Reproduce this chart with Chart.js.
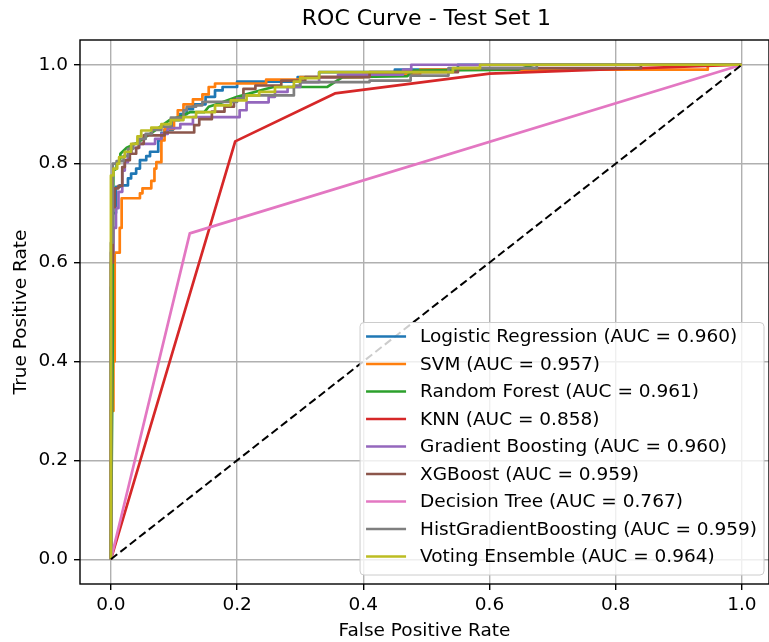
<!DOCTYPE html>
<html>
<head>
<meta charset="utf-8">
<script src="https://cdn.jsdelivr.net/npm/chart.js@4.4.1/dist/chart.umd.min.js"></script>
<style>
  html, body { margin: 0; padding: 0; background: #fff; }
</style>
</head>
<body>
<canvas id="roc" width="769" height="642"></canvas>
<script>
// legend entries
const modelNames = ['Logistic Regression', 'SVM', 'Random Forest', 'KNN', 'Gradient Boosting',
  'XGBoost', 'Decision Tree', 'HistGradientBoosting', 'Voting Ensemble'];
const aucScores = [0.960, 0.957, 0.961, 0.858, 0.960, 0.959, 0.767, 0.959, 0.964];
const lineColors = ['#1f77b4', '#ff7f0e', '#2ca02c', '#d62728', '#9467bd',
  '#8c564b', '#e377c2', '#7f7f7f', '#bcbd22'];

const chartTitle = 'ROC Curve - Test Set 1';
const xTicks = [0.0, 0.2, 0.4, 0.6, 0.8, 1.0];
const yTicks = [0.0, 0.2, 0.4, 0.6, 0.8, 1.0];

// ROC curves.
// staircase curves: each (fpr, tpr) is the right end of a flat run
const lrFpr = [0, 0.003, 0.008, 0.014, 0.027, 0.032, 0.04, 0.046, 0.056, 0.062, 0.075, 0.08, 0.085, 0.098, 0.109, 0.12, 0.13, 0.15, 0.165, 0.177, 0.2, 0.296, 0.33, 0.45, 0.55, 1];
const lrTpr = [0, 0.55, 0.70, 0.753, 0.756, 0.77, 0.78, 0.79, 0.807, 0.815, 0.824, 0.847, 0.862, 0.868, 0.888, 0.90, 0.91, 0.92, 0.935, 0.948, 0.955, 0.966, 0.975, 0.985, 0.99, 1];

const svmFpr = [0, 0.004, 0.006, 0.014, 0.017, 0.046, 0.05, 0.064, 0.069, 0.072, 0.08, 0.085, 0.10, 0.106, 0.115, 0.13, 0.145, 0.155, 0.165, 0.246, 0.30, 0.40, 0.49, 0.946, 1];
const svmTpr = [0, 0.30, 0.40, 0.62, 0.67, 0.73, 0.74, 0.75, 0.765, 0.79, 0.803, 0.847, 0.87, 0.89, 0.908, 0.92, 0.93, 0.94, 0.955, 0.962, 0.97, 0.975, 0.98, 0.99, 1];

const gbFpr = [0, 0.004, 0.008, 0.012, 0.018, 0.022, 0.027, 0.033, 0.045, 0.07, 0.08, 0.09, 0.11, 0.13, 0.204, 0.215, 0.25, 0.26, 0.28, 0.30, 0.33, 0.36, 0.463, 0.476, 1];
const gbTpr = [0, 0.62, 0.67, 0.71, 0.743, 0.786, 0.803, 0.82, 0.832, 0.84, 0.85, 0.86, 0.872, 0.88, 0.894, 0.908, 0.924, 0.935, 0.945, 0.955, 0.965, 0.975, 0.98, 0.99, 1];

const xgbFpr = [0, 0.003, 0.006, 0.012, 0.018, 0.022, 0.03, 0.04, 0.044, 0.052, 0.085, 0.132, 0.14, 0.16, 0.18, 0.195, 0.21, 0.229, 0.27, 0.308, 0.41, 0.55, 0.84, 1];
const xgbTpr = [0, 0.60, 0.712, 0.75, 0.755, 0.793, 0.807, 0.82, 0.832, 0.84, 0.857, 0.863, 0.878, 0.89, 0.905, 0.915, 0.93, 0.951, 0.958, 0.968, 0.975, 0.985, 0.993, 1];

const hgbFpr = [0, 0, 0.003, 0.009, 0.02, 0.027, 0.035, 0.045, 0.055, 0.065, 0.08, 0.095, 0.115, 0.12, 0.135, 0.145, 0.2, 0.21, 0.29, 0.30, 0.41, 0.475, 0.535, 0.675, 1];
const hgbTpr = [0, 0.62, 0.64, 0.80, 0.805, 0.815, 0.83, 0.84, 0.85, 0.86, 0.868, 0.875, 0.893, 0.908, 0.915, 0.918, 0.925, 0.932, 0.938, 0.958, 0.965, 0.968, 0.978, 0.993, 1];

const voteFpr = [0, 0.004, 0.01, 0.013, 0.022, 0.032, 0.042, 0.048, 0.064, 0.08, 0.095, 0.115, 0.135, 0.165, 0.19, 0.215, 0.235, 0.26, 0.29, 0.30, 0.33, 0.542, 0.585, 1];
const voteTpr = [0, 0.776, 0.79, 0.80, 0.813, 0.824, 0.84, 0.855, 0.867, 0.873, 0.88, 0.888, 0.894, 0.904, 0.918, 0.928, 0.938, 0.945, 0.955, 0.966, 0.973, 0.985, 0.993, 1];

// plain polylines
const rfFpr = [0, 0.003, 0.003, 0.004, 0.009, 0.009, 0.015, 0.015, 0.025, 0.043, 0.093, 0.11, 0.125, 0.148, 0.155, 0.17, 0.2, 0.245, 0.258, 0.343, 0.367, 0.47, 0.48, 0.645, 0.67, 1];
const rfTpr = [0, 0.46, 0.64, 0.786, 0.79, 0.80, 0.81, 0.82, 0.832, 0.843, 0.888, 0.895, 0.904, 0.904, 0.915, 0.921, 0.935, 0.951, 0.955, 0.955, 0.975, 0.977, 0.988, 0.99, 1, 1];

const knnFpr = [0, 0.197, 0.355, 0.6, 0.84, 1];
const knnTpr = [0, 0.845, 0.942, 0.982, 0.993, 1];

const dtFpr = [0, 0.125, 1];
const dtTpr = [0, 0.659, 1];

const chanceLine = [0, 1];

function stairs(fpr, tpr) {
  const pts = [{ x: fpr[0], y: tpr[0] }];
  for (let i = 1; i < fpr.length; i++) {
    pts.push({ x: fpr[i - 1], y: tpr[i] });
    pts.push({ x: fpr[i], y: tpr[i] });
  }
  return pts;
}
function polyline(fpr, tpr) {
  return fpr.map((x, i) => ({ x: x, y: tpr[i] }));
}

const curves = [
  stairs(lrFpr, lrTpr),
  stairs(svmFpr, svmTpr),
  polyline(rfFpr, rfTpr),
  polyline(knnFpr, knnTpr),
  stairs(gbFpr, gbTpr),
  stairs(xgbFpr, xgbTpr),
  polyline(dtFpr, dtTpr),
  stairs(hgbFpr, hgbTpr),
  stairs(voteFpr, voteTpr)
];

const datasets = curves.map((pts, i) => ({
  label: modelNames[i] + ' (AUC = ' + aucScores[i].toFixed(3) + ')',
  data: pts,
  borderColor: lineColors[i],
  borderWidth: 2.7,
  borderJoinStyle: 'round',
  pointRadius: 0,
  fill: false,
  tension: 0,
  order: 20 - i   // later models on top, like matplotlib
}));
datasets.push({
  label: 'chance',
  data: polyline(chanceLine, chanceLine),
  borderColor: '#000',
  borderWidth: 2,
  borderDash: [8, 4],
  pointRadius: 0,
  fill: false,
  order: 0
});

const FONT = '"DejaVu Sans", sans-serif';
const FS = 18.5;

// axes frame, title over the axes, legend inside plot at lower right
const frameAndLegend = {
  id: 'frameAndLegend',
  afterDraw(chart) {
    const { ctx, chartArea } = chart;
    ctx.save();
    ctx.strokeStyle = '#000';
    ctx.lineWidth = 1.4;
    ctx.strokeRect(chartArea.left, chartArea.top, chartArea.right - chartArea.left, chartArea.bottom - chartArea.top);

    // title centred on the full axes (right edge is cut off by the image)
    ctx.font = '22px ' + FONT;
    ctx.fillStyle = '#000';
    ctx.textAlign = 'center';
    ctx.textBaseline = 'middle';
    ctx.fillText(chartTitle, chart.scales.x.getPixelForValue(0.5), 19);

    ctx.textAlign = 'left';
    ctx.font = FS + 'px ' + FONT;
    const labels = datasets.slice(0, modelNames.length).map(d => d.label);
    const textW = Math.max(...labels.map(t => ctx.measureText(t).width));
    const rowH = 27.5;
    const right = chartArea.right - 5;
    const bottom = chartArea.bottom - 9;
    const w = textW + 67;
    const h = labels.length * rowH + 5;
    const left = right - w;
    const top = bottom - h;

    ctx.beginPath();
    ctx.roundRect(left, top, w, h, 4);
    ctx.fillStyle = 'rgba(255,255,255,0.8)';
    ctx.fill();
    ctx.strokeStyle = '#cccccc';
    ctx.lineWidth = 1;
    ctx.stroke();

    labels.forEach((t, i) => {
      const cy = top + 14 + i * rowH;
      ctx.beginPath();
      ctx.moveTo(left + 6, cy);
      ctx.lineTo(left + 46, cy);
      ctx.strokeStyle = lineColors[i];
      ctx.lineWidth = 2.7;
      ctx.stroke();
      ctx.fillStyle = '#000';
      ctx.fillText(t, left + 60, cy + 1);
    });
    ctx.restore();
  }
};

new Chart(document.getElementById('roc'), {
  type: 'line',
  data: { datasets: datasets },
  options: {
    responsive: false,
    animation: false,
    devicePixelRatio: 1,
    layout: { padding: { top: 40, left: 0, right: 0, bottom: 0 } },
    plugins: {
      legend: { display: false },
      tooltip: { enabled: false },
      title: { display: false }
    },
    scales: {
      x: {
        type: 'linear',
        min: -0.049,
        max: 1.043,
        afterBuildTicks: s => { s.ticks = xTicks.map(v => ({ value: v })); },
        afterFit: s => { s.height = 58; },
        ticks: {
          callback: v => v.toFixed(1),
          color: '#000',
          font: { family: FONT, size: FS },
          padding: 4,
          maxRotation: 0
        },
        grid: { color: '#b0b0b0', lineWidth: 1.4, tickColor: '#000', tickLength: 6, tickWidth: 1.4 },
        border: { display: false },
        title: {
          display: true,
          text: 'False Positive Rate',
          color: '#000',
          font: { family: FONT, size: FS },
          padding: { top: 0, bottom: 0 }
        }
      },
      y: {
        type: 'linear',
        min: -0.05,
        max: 1.05,
        afterBuildTicks: s => { s.ticks = yTicks.map(v => ({ value: v })); },
        afterFit: s => { s.width = 80; },
        ticks: {
          callback: v => v.toFixed(1),
          color: '#000',
          font: { family: FONT, size: FS },
          padding: 6
        },
        grid: { color: '#b0b0b0', lineWidth: 1.4, tickColor: '#000', tickLength: 6, tickWidth: 1.4 },
        border: { display: false },
        title: {
          display: true,
          text: 'True Positive Rate',
          color: '#000',
          font: { family: FONT, size: FS },
          padding: { top: 10, bottom: 0 }
        }
      }
    }
  },
  plugins: [frameAndLegend]
});
</script>
</body>
</html>
